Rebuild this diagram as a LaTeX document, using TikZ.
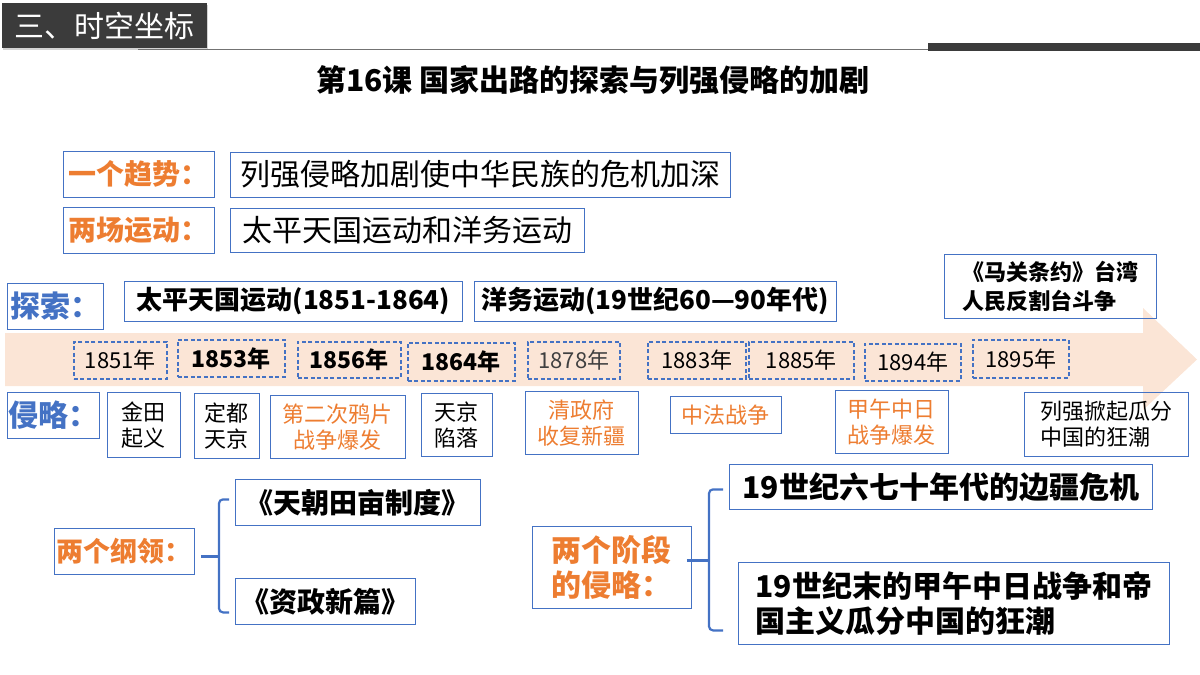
\documentclass[tikz,border=0pt]{standalone}
\usepackage{fontspec}
\setmainfont{Noto Sans CJK SC}
\usetikzlibrary{positioning, shadows}

\definecolor{boxblue}{HTML}{4472C4}
\definecolor{hotorange}{HTML}{ED7D31}
\definecolor{bandpeach}{HTML}{FBE5D6}
\definecolor{hdrgray}{HTML}{3B3B3B}

\begin{document}
\begin{tikzpicture}[
    x=1pt, y=-1pt,
    header/.style = {rectangle, fill=hdrgray, text=white, anchor=north west, minimum width=205pt, minimum height=45pt, font=\fontsize{30}{32}\selectfont, drop shadow={shadow xshift=1pt, shadow yshift=-2pt, opacity=0.35}},
    title/.style = {font=\fontsize{30}{32}\selectfont\bfseries},
    keybox/.style = {rectangle, draw=boxblue, line width=0.8pt, inner sep=1pt, text=hotorange, font=\fontsize{28}{34}\selectfont\bfseries, minimum height=46pt},
    sidebox/.style = {rectangle, draw=boxblue, line width=0.8pt, inner sep=1pt, text=boxblue, anchor=north west, font=\fontsize{30}{32}\selectfont\bfseries, minimum height=46pt},
    infobox/.style = {rectangle, draw=boxblue, line width=0.8pt, font=\fontsize{30}{34}\selectfont, minimum height=45pt},
    phasebox/.style = {rectangle, draw=boxblue, line width=0.8pt, anchor=north west, font=\fontsize{26}{30}\selectfont\bfseries, minimum height=40pt},
    datebox/.style = {rectangle, draw=boxblue, dash pattern=on 4pt off 2.5pt, line width=1.6pt, anchor=north west, font=\fontsize{22}{26}\selectfont, minimum height=37pt},
    eventbox/.style = {rectangle, draw=boxblue, line width=0.8pt, anchor=north west, align=center, font=\fontsize{22}{26}\selectfont, minimum height=63pt},
    bigbox/.style = {rectangle, draw=boxblue, line width=0.8pt, anchor=north west, font=\fontsize{28}{34}\selectfont\bfseries, minimum height=46pt},
    brace/.style = {draw=boxblue, line width=2.2pt, rounded corners=4pt},
]
\useasboundingbox (0,0) rectangle (1200,675);

% Header
\node [header] (hdr) at (2,3) {三、时空坐标};
\draw [black!55, line width=1pt] (138,49.5) -- (928,49.5);
\fill [hdrgray] (928,43) rectangle (1200,50.5);
\node [title] (title) at (593,80) {第16课 国家出路的探索与列强侵略的加剧};

% Trend and movements
\node [keybox, anchor=north west, minimum width=151pt] (trend) at (63,151) {一个趋势：};
\node [infobox, minimum width=500pt, right=15pt of trend] (trendtxt) {列强侵略加剧使中华民族的危机加深};
\node [keybox, anchor=north west, minimum width=151pt] (moves) at (63,207) {两场运动：};
\node [infobox, minimum width=354pt, minimum height=44pt, right=15pt of moves] (movestxt) {太平天国运动和洋务运动};

% Time band
\fill [bandpeach] (5,333) -- (1143,333) -- (1143,308) -- (1197,359.5) -- (1143,410) -- (1143,386) -- (5,386) -- cycle;

% Exploration
\node [sidebox, minimum width=96pt] (explore) at (7,283) {探索：};
\node [phasebox, minimum width=338pt] (taiping) at (124,281) {太平天国运动(1851-1864)};
\node [phasebox, minimum width=362pt, anchor=west, right=11pt of taiping] (yangwu) {洋务运动(19世纪60—90年代)};
\node [eventbox, minimum width=212pt, minimum height=64pt, align=left, font=\fontsize{22}{29}\selectfont\bfseries] (maguan) at (944,254) {《马关条约》台湾\\人民反割台斗争};

% Dates
\node [datebox, minimum width=93pt] (d1851) at (73,341) {1851年};
\node [datebox, minimum width=107pt, font=\fontsize{23}{26}\selectfont\bfseries] (d1853) at (177,339) {1853年};
\node [datebox, minimum width=103pt, minimum height=36pt, font=\fontsize{23}{26}\selectfont\bfseries] (d1856) at (297,341) {1856年};
\node [datebox, minimum width=107pt, minimum height=38pt, font=\fontsize{23}{26}\selectfont\bfseries] (d1864) at (407,342) {1864年};
\node [datebox, minimum width=92pt, text=black!75] (d1878) at (527,341) {1878年};
\node [datebox, minimum width=98pt] (d1883) at (647,341) {1883年};
\node [datebox, minimum width=105pt] (d1885) at (748,341) {1885年};
\node [datebox, minimum width=96pt] (d1894) at (864,343) {1894年};
\node [datebox, minimum width=96pt, minimum height=38pt] (d1895) at (972,339) {1895年};

% Invasion
\node [sidebox, minimum width=90pt] (invade) at (7,392) {侵略：};
\node [eventbox, minimum width=73pt, minimum height=65pt] (jintian) at (107,392) {金田\\起义};
\node [eventbox, minimum width=65pt, minimum height=65pt] (dingdu) at (194,393) {定都\\天京};
\node [eventbox, minimum width=135pt, text=hotorange] (opium) at (270,395) {第二次鸦片\\战争爆发};
\node [eventbox, minimum width=71pt] (tianjing) at (421,393) {天京\\陷落};
\node [eventbox, minimum width=113pt, text=hotorange] (xinjiang) at (525,391) {清政府\\收复新疆};
\node [eventbox, minimum width=111pt, minimum height=37pt, text=hotorange] (sinofr) at (670,396) {中法战争};
\node [eventbox, minimum width=113pt, text=hotorange] (jiawu) at (835,390) {甲午中日\\战争爆发};
\node [eventbox, minimum width=164pt, minimum height=64pt, align=left] (carve) at (1024,392) {列强掀起瓜分\\中国的狂潮};

% Two programmes
\node [keybox, anchor=north west, minimum width=140pt, font=\fontsize{27}{34}\selectfont\bfseries] (gangling) at (54,528) {两个纲领：};
\node [bigbox, minimum width=245pt] (tianchao) at (235,479) {《天朝田亩制度》};
\node [bigbox, minimum width=180pt] (zizheng) at (235,578) {《资政新篇》};

% Two stages
\node [keybox, anchor=north west, minimum width=159pt, minimum height=82pt, align=left, font=\fontsize{30}{35}\selectfont\bfseries] (stages) at (532,526) {两个阶段\\的侵略：};
\node [bigbox, minimum width=423pt, minimum height=45pt, font=\fontsize{30}{35}\selectfont\bfseries] (frontier) at (729,464) {19世纪六七十年代的边疆危机};
\node [bigbox, minimum width=431pt, minimum height=82pt, align=left, font=\fontsize{30}{35}\selectfont\bfseries] (latecent) at (738,562) {19世纪末的甲午中日战争和帝\\国主义瓜分中国的狂潮};

% Braces
\draw [brace] ([xshift=6pt,yshift=-5pt]gangling.east) -- ++(19,0);
\draw [brace] ([xshift=-6pt,yshift=3pt]tianchao.west) -| ([xshift=-16pt,yshift=-11pt]zizheng.west) -- ([xshift=-6pt,yshift=-11pt]zizheng.west);
\draw [brace] ([xshift=-5pt,yshift=7pt]stages.east) -- ++(23,0);
\draw [brace] ([xshift=-6pt,yshift=-2.5pt]frontier.west) -| ([xshift=-29pt,yshift=-27pt]latecent.west) -- ([xshift=-15pt,yshift=-27pt]latecent.west);

\end{tikzpicture}
\end{document}
